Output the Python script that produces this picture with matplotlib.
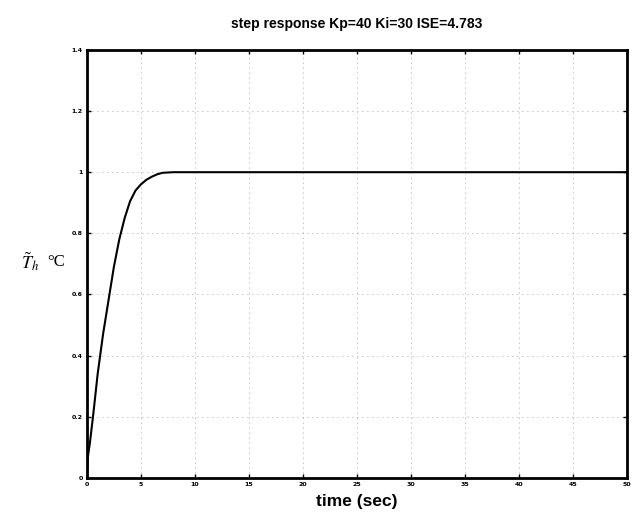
import matplotlib
matplotlib.use("Agg")
import matplotlib.pyplot as plt

# Closed-loop step response samples (time in seconds, normalized temperature)
time_s = [0, 0.1, 0.3, 0.6, 1.0, 1.5, 2.0, 2.5, 3.0, 3.5, 4.0, 4.5, 5.0, 5.5,
          6.0, 6.5, 7.0, 8.0, 9.0, 10, 20, 30, 40, 50]
response = [0, 0.07, 0.12, 0.21, 0.34, 0.47, 0.58, 0.69, 0.78, 0.85, 0.905, 0.94,
            0.96, 0.975, 0.985, 0.993, 0.998, 1.0, 1.0, 1.0, 1.0, 1.0, 1.0, 1.0]

x_ticks = [0, 5, 10, 15, 20, 25, 30, 35, 40, 45, 50]
y_ticks = [0, 0.2, 0.4, 0.6, 0.8, 1.0, 1.2, 1.4]
y_tick_labels = ["0", "0.2", "0.4", "0.6", "0.8", "1", "1.2", "1.4"]

fig = plt.figure(figsize=(6.34, 5.2), dpi=100)
ax = fig.add_axes([0.137, 0.081, 0.852, 0.823])

ax.plot(time_s, response, color="black", linewidth=1.5)

ax.set_xlim(0, 50)
ax.set_ylim(0, 1.4)
ax.set_xticks(x_ticks)
ax.set_xticklabels([str(v) for v in x_ticks], fontsize=4.5, fontweight="bold")
ax.set_yticks(y_ticks)
ax.set_yticklabels(y_tick_labels, fontsize=4.5, fontweight="bold")
ax.tick_params(direction="in", length=3, width=1.0, top=True, right=True, pad=3)

for side in ax.spines.values():
    side.set_linewidth(2.0)

ax.grid(True, linestyle=(0, (1, 5)), color="#888888", linewidth=0.6)

ax.set_title("step response Kp=40 Ki=30 ISE=4.783", fontsize=10,
             fontweight="bold", family="Liberation Sans", pad=16)
ax.set_xlabel("time (sec)", fontsize=12.5, fontweight="bold",
              family="Liberation Sans", labelpad=5)

fig.text(0.033, 0.496, r"$\tilde{T}_h$", fontsize=13,
         math_fontfamily="stix", ha="left", va="center")
fig.text(0.075, 0.496, "°C", fontsize=12, family="Liberation Serif",
         ha="left", va="center")

fig.savefig("out.png", dpi=100)
